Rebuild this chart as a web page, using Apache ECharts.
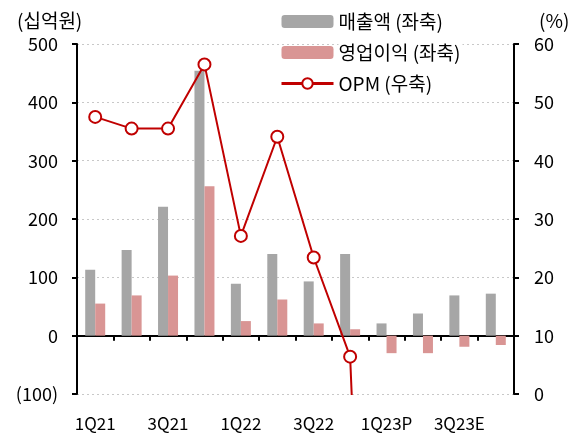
<!DOCTYPE html>
<html><head><meta charset="utf-8">
<script src="https://cdn.jsdelivr.net/npm/echarts@6/dist/echarts.min.js"></script>
<style>html,body{margin:0;padding:0;background:#fff}#c{width:572px;height:434px}</style>
</head><body><div id="c"></div>
<script>
const categories = ['1Q21','2Q21','3Q21','4Q21','1Q22','2Q22','3Q22','4Q22','1Q23P','2Q23','3Q23E','4Q23E'];
const revenue = [113, 147, 221, 454, 89, 140, 93, 140, 21, 38, 69, 72];
const opProfit = [55, 69, 103, 256, 25, 62, 21, 11, -30, -30, -19, -16];
const opm = [47.5, 45.5, 45.5, 56.5, 27.1, 44.1, 23.4, 6.4, -143, -79, -28, -22];
const leftTicks = {min: -100, max: 500, step: 100};
const rightTicks = {min: 0, max: 60, step: 10};
const seriesNames = ['매출액 (좌축)', '영업이익 (좌축)', 'OPM (우축)'];

const FONT = '"Noto Sans CJK KR", "Noto Sans", sans-serif';
const chart = echarts.init(document.getElementById('c'), null, {renderer: 'canvas'});
chart.setOption({
  animation: false,
  backgroundColor: '#fff',
  textStyle: {fontFamily: FONT},
  title: [
    {text: '(십억원)', left: 12, top: 6, textStyle: {fontFamily: FONT, fontSize: 19, fontWeight: 'normal', color: '#000'}},
    {text: '(%)', left: 534, top: 6, textStyle: {fontFamily: FONT, fontSize: 19, fontWeight: 'normal', color: '#000'}}
  ],
  legend: {
    orient: 'vertical', left: 275, top: 7, itemWidth: 52, itemHeight: 13, itemGap: 12,
    data: [seriesNames[0], seriesNames[1], {name: seriesNames[2], lineStyle: {width: 3}}],
    textStyle: {fontFamily: FONT, fontSize: 19, color: '#000', backgroundColor: '#fff', padding: [0, 2, 0, 0]}
  },
  grid: {left: 77, right: 58, top: 44, bottom: 40, containLabel: false},
  xAxis: [
    {type: 'category', data: categories, boundaryGap: true,
     axisLine: {onZero: true, lineStyle: {color: '#000', width: 2}},
     axisTick: {show: true, interval: 0, length: 5, lineStyle: {color: '#000', width: 2}},
     axisLabel: {show: false}, splitLine: {show: false}},
    {type: 'category', data: categories, position: 'bottom', boundaryGap: true,
     axisLine: {show: false, onZero: false}, axisTick: {show: false},
     axisLabel: {interval: 1, margin: 21, fontFamily: FONT, fontSize: 17, color: '#000'}}
  ],
  yAxis: [
    {type: 'value', min: leftTicks.min, max: leftTicks.max, interval: leftTicks.step,
     axisLine: {show: true, lineStyle: {color: '#000', width: 2}},
     axisTick: {show: true, length: 5, lineStyle: {color: '#000', width: 2}},
     axisLabel: {margin: 19, fontFamily: FONT, fontSize: 18, color: '#000',
       formatter: v => v < 0 ? '(' + Math.abs(v) + ')' : String(v)},
     splitLine: {show: true, lineStyle: {color: '#c8c8c8', type: [2, 3], width: 1}}},
    {type: 'value', min: rightTicks.min, max: rightTicks.max, interval: rightTicks.step, position: 'right',
     axisLine: {show: true, lineStyle: {color: '#000', width: 2}},
     axisTick: {show: true, length: 5, lineStyle: {color: '#000', width: 2}},
     axisLabel: {margin: 20, fontFamily: FONT, fontSize: 18, color: '#000'},
     splitLine: {show: false}}
  ],
  series: [
    {name: seriesNames[0], type: 'bar', data: revenue, barWidth: 10, barGap: '0%',
     itemStyle: {color: '#a6a6a6'}},
    {name: seriesNames[1], type: 'bar', data: opProfit, barWidth: 10, barGap: '0%',
     itemStyle: {color: '#d99594'}},
    {name: seriesNames[2], type: 'line', yAxisIndex: 1, data: opm, clip: true,
     symbol: 'circle', symbolSize: 12, z: 5,
     lineStyle: {color: '#c00000', width: 2},
     itemStyle: {color: '#fff', borderColor: '#c00000', borderWidth: 2}}
  ]
});
</script></body></html>
